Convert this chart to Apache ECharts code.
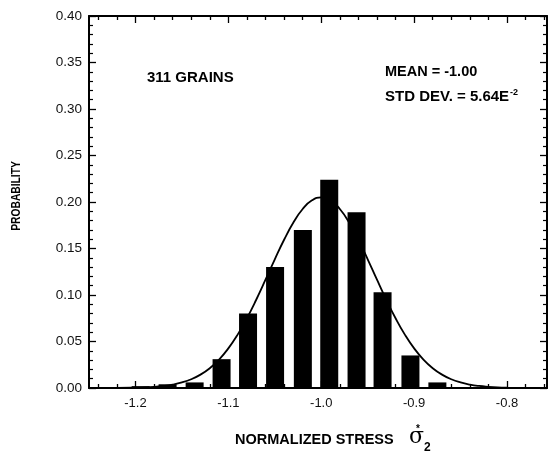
<!DOCTYPE html>
<html><head><meta charset="utf-8">
<script src="https://cdn.jsdelivr.net/npm/echarts@6/dist/echarts.min.js"></script>
<style>html,body{margin:0;padding:0;background:#fff}#c{width:549px;height:457px}</style>
</head><body><div id="c"></div>
<script>
// Histogram bin centres (normalized stress) and probabilities
const binCenters = [-1.2235, -1.1944, -1.1654, -1.1363, -1.1073, -1.0788, -1.0497, -1.0198, -0.9914, -0.9620, -0.9340, -0.9040, -0.8750];
const probabilities = [0.001, 0.002, 0.004, 0.006, 0.031, 0.080, 0.130, 0.170, 0.224, 0.189, 0.103, 0.035, 0.006];
// Fitted normal curve
const curveX = [-1.25, -1.22, -1.20, -1.19, -1.18, -1.17, -1.16, -1.15, -1.14, -1.13, -1.12, -1.11, -1.10, -1.09, -1.08, -1.07, -1.06, -1.05, -1.04, -1.03, -1.02, -1.01, -1.00,
  -0.99, -0.98, -0.97, -0.96, -0.95, -0.94, -0.93, -0.92, -0.91, -0.90, -0.89, -0.88, -0.87, -0.86, -0.85, -0.84, -0.83, -0.82, -0.81, -0.80, -0.78, -0.757];
const curveY = [0.0000, 0.0001, 0.0004, 0.0007, 0.0013, 0.0022, 0.0037, 0.0060, 0.0094, 0.0144, 0.0213, 0.0306, 0.0426, 0.0574, 0.0750, 0.0949, 0.1164, 0.1384, 0.1594, 0.1779, 0.1925, 0.2018, 0.2050,
  0.2018, 0.1925, 0.1779, 0.1594, 0.1384, 0.1164, 0.0949, 0.0750, 0.0574, 0.0426, 0.0306, 0.0213, 0.0144, 0.0094, 0.0060, 0.0037, 0.0022, 0.0013, 0.0007, 0.0004, 0.0001, 0.0000];
// Tick positions
const xTickLabels = [-1.2, -1.1, -1.0, -0.9, -0.8];
const xMinorTicks = [-1.24, -1.22, -1.18, -1.16, -1.14, -1.12, -1.08, -1.06, -1.04, -1.02, -0.98, -0.96, -0.94, -0.92, -0.88, -0.86, -0.84, -0.82, -0.78, -0.76];

const XMIN = -1.25, XMAX = -0.757;
const FONT = '"Liberation Sans", Arial, sans-serif';

const barData = binCenters.map((x, i) => [x, probabilities[i]]);
const curveData = curveX.map((x, i) => [x, curveY[i]]);

function xAxisDef(pos, major, labels) {
  return {
    type: 'value', position: pos, min: XMIN, max: XMAX, gridIndex: 0,
    axisLine: { show: major, onZero: false, lineStyle: { color: '#000', width: 2 } },
    axisTick: { show: true, inside: true, length: major ? 7 : 4, customValues: major ? xTickLabels : xMinorTicks,
      lineStyle: { color: '#000', width: 1.3 } },
    axisLabel: { show: labels, customValues: xTickLabels, formatter: v => v.toFixed(1),
      color: '#111', fontSize: 13, fontFamily: FONT, margin: 9 },
    splitLine: { show: false }
  };
}
function yAxisDef(pos, labels) {
  return {
    type: 'value', position: pos, min: 0, max: 0.40, interval: 0.05,
    axisLine: { show: true, lineStyle: { color: '#000', width: 2 } },
    axisTick: { show: true, inside: true, length: 7, lineStyle: { color: '#000', width: 1.3 } },
    minorTick: { show: true, splitNumber: 5, length: 4, lineStyle: { color: '#000', width: 1.2 } },
    axisLabel: { show: labels, formatter: v => v.toFixed(2), color: '#111', fontSize: 13.5, fontFamily: FONT, margin: 7 },
    splitLine: { show: false }, minorSplitLine: { show: false }
  };
}

const chart = echarts.init(document.getElementById('c'), null, { renderer: 'canvas' });
chart.setOption({
  animation: false,
  backgroundColor: '#fff',
  grid: { left: 89, right: 2, top: 16, bottom: 69, containLabel: false },
  xAxis: [xAxisDef('bottom', true, true), xAxisDef('bottom', false, false), xAxisDef('top', true, false), xAxisDef('top', false, false)],
  yAxis: [yAxisDef('left', true), yAxisDef('right', false)],
  series: [
    { type: 'bar', xAxisIndex: 0, yAxisIndex: 0, data: barData, barWidth: 18, itemStyle: { color: '#000' } },
    { type: 'line', xAxisIndex: 0, yAxisIndex: 0, data: curveData, smooth: true, symbol: 'none',
      lineStyle: { color: '#000', width: 1.8 }, z: 3 }
  ],
  graphic: [
    { type: 'text', style: { text: '311 GRAINS', x: 147, y: 78, font: 'bold 15px ' + FONT, fill: '#000', verticalAlign: 'middle' } },
    { type: 'text', style: { text: 'MEAN = -1.00', x: 385, y: 72, font: 'bold 14.5px ' + FONT, fill: '#000', verticalAlign: 'middle' } },
    { type: 'text', style: { text: '{a|STD DEV. = 5.64E}{b|-2}', x: 385, y: 97, verticalAlign: 'middle',
      rich: { a: { font: 'bold 15px ' + FONT, fill: '#000' }, b: { font: 'bold 9px ' + FONT, fill: '#000', verticalAlign: 'top', padding: [0, 0, 9, 1] } } } },
    { type: 'text', rotation: Math.PI / 2, scaleX: 0.82, x: 17, y: 196, style: { text: 'PROBABILITY', x: 0, y: 0, font: 'bold 12.5px ' + FONT, fill: '#000', align: 'center', verticalAlign: 'middle' } },
    { type: 'text', style: { text: 'NORMALIZED STRESS', x: 235, y: 440, font: 'bold 14.5px ' + FONT, fill: '#000', verticalAlign: 'middle' } },
    { type: 'text', style: { text: 'σ', x: 409, y: 437, font: '22px "DejaVu Serif", serif', fill: '#000', verticalAlign: 'middle' } },
    { type: 'text', style: { text: '2', x: 424, y: 448, font: 'bold 12px ' + FONT, fill: '#000', verticalAlign: 'middle' } },
    { type: 'text', style: { text: '*', x: 416, y: 429, font: 'bold 10px ' + FONT, fill: '#000', verticalAlign: 'middle' } }
  ]
});
</script></body></html>
